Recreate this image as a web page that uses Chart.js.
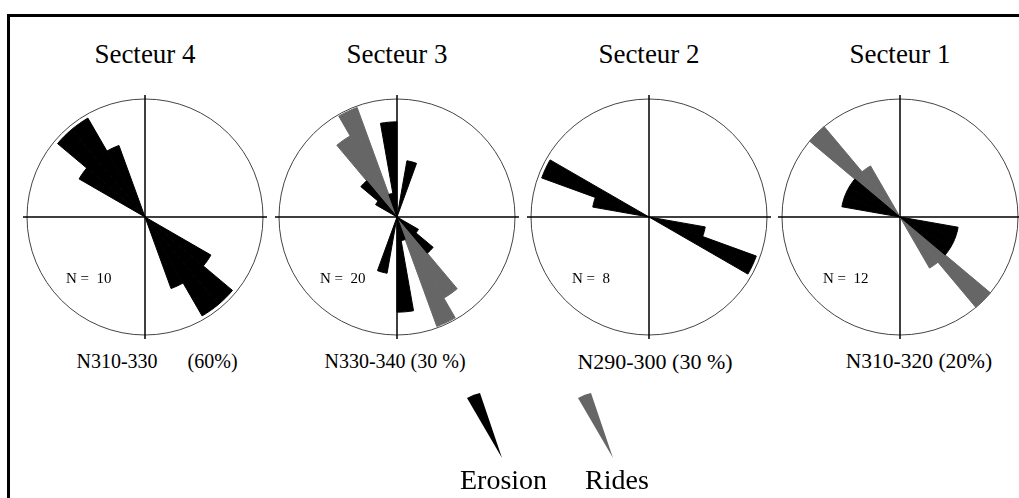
<!DOCTYPE html>
<html>
<head>
<meta charset="utf-8">
<script src="https://cdn.jsdelivr.net/npm/chart.js@4.4.0/dist/chart.umd.min.js"></script>
<style>
  html, body { margin: 0; padding: 0; background: #fff; }
  body { width: 1019px; height: 498px; position: relative; overflow: hidden;
         font-family: "Liberation Serif", "Times New Roman", serif; color: #000; }
  .frame { position: absolute; left: 7px; top: 14px; width: 1100px; height: 600px;
           border-top: 3px solid #000; border-left: 3px solid #000; }
  .rose { position: absolute; top: 92px; }
  .title { position: absolute; top: 39px; width: 200px; margin-left: -100px; text-align: center;
           font-size: 27px; white-space: nowrap; }
  .sub { position: absolute; top: 350px; width: 240px; margin-left: -120px; text-align: center;
         font-size: 20px; white-space: pre; }
  .count { position: absolute; top: 270px; font-size: 15px; white-space: pre; }
  .leg { position: absolute; top: 464px; font-size: 28px; white-space: nowrap; }
  svg { position: absolute; left: 0; top: 0; }
</style>
</head>
<body>
<div class="frame"></div>

<div class="title" style="left:145px">Secteur 4</div>
<div class="title" style="left:397px">Secteur 3</div>
<div class="title" style="left:649px">Secteur 2</div>
<div class="title" style="left:900px">Secteur 1</div>

<canvas id="s4" class="rose" width="250" height="250" style="left:20px"></canvas>
<canvas id="s3" class="rose" width="250" height="250" style="left:272px"></canvas>
<canvas id="s2" class="rose" width="250" height="250" style="left:524px"></canvas>
<canvas id="s1" class="rose" width="250" height="250" style="left:775px"></canvas>

<div class="count" style="left:66px">N =  10</div>
<div class="count" style="left:320px">N =  20</div>
<div class="count" style="left:572px">N =  8</div>
<div class="count" style="left:823px">N =  12</div>

<div class="sub" style="left:157px">N310-330      (60%)</div>
<div class="sub" style="left:395px">N330-340 (30 %)</div>
<div class="sub" style="left:655px; top:349px; font-size:22px">N290-300 (30 %)</div>
<div class="sub" style="left:919px; top:349px; font-size:21.5px">N310-320 (20%)</div>

<svg width="1019" height="498">
  <path d="M467,398 Q474,394 480,393 L502,458 Z" fill="#000"/>
  <path d="M578,398 Q585,394 591,393 L613,458 Z" fill="#666"/>
</svg>
<div class="leg" style="left:460px">Erosion</div>
<div class="leg" style="left:585px">Rides</div>

<script>
// 10 degree direction classes, clockwise from north
var binStarts = [0, 10, 20, 30, 40, 50, 60, 70, 80, 90, 100, 110, 120, 130, 140, 150, 160, 170,
                 180, 190, 200, 210, 220, 230, 240, 250, 260, 270, 280, 290, 300, 310, 320, 330, 340, 350];
var scaleMax = 31;

// percentages per class (bidirectional, so each class has its opposite)
var s4Erosion = [0, 0, 0, 0, 0, 0, 0, 0, 0, 0, 0, 0, 20, 30, 30, 20, 0, 0,
                 0, 0, 0, 0, 0, 0, 0, 0, 0, 0, 0, 0, 20, 30, 30, 20, 0, 0];
var s3Erosion = [0, 15, 0, 0, 0, 0, 0, 0, 0, 0, 0, 0, 6.5, 12.4, 0, 0, 6.3, 25,
                 0, 15, 0, 0, 0, 0, 0, 0, 0, 0, 0, 0, 6.5, 12.4, 0, 0, 6.3, 25];
var s3Rides   = [0, 0, 0, 0, 0, 0, 0, 0, 0, 0, 0, 0, 0, 0, 24.6, 30.6, 0, 0,
                 0, 0, 0, 0, 0, 0, 0, 0, 0, 0, 0, 0, 0, 0, 24.6, 30.6, 0, 0];
var s2Erosion = [0, 0, 0, 0, 0, 0, 0, 0, 0, 0, 15, 30, 0, 0, 0, 0, 0, 0,
                 0, 0, 0, 0, 0, 0, 0, 0, 0, 0, 15, 30, 0, 0, 0, 0, 0, 0];
var s1Erosion = [0, 0, 0, 0, 0, 0, 0, 0, 0, 0, 15.5, 15.5, 15.5, 0, 0, 0, 0, 0,
                 0, 0, 0, 0, 0, 0, 0, 0, 0, 0, 15.5, 15.5, 15.5, 0, 0, 0, 0, 0];
var s1Rides   = [0, 0, 0, 0, 0, 0, 0, 0, 0, 0, 0, 0, 0, 31, 15.5, 0, 0, 0,
                 0, 0, 0, 0, 0, 0, 0, 0, 0, 0, 0, 0, 0, 31, 15.5, 0, 0, 0];

var binLabels = binStarts.map(function (a) { return 'N' + a + '-' + (a + 10); });

// N-S / E-W cross, a little longer than the circle
var crossPlugin = {
  id: 'cross',
  beforeDatasetsDraw: function (chart) {
    var s = chart.scales.r, c = chart.ctx, L = s.drawingArea + 4;
    c.save();
    c.strokeStyle = '#000';
    c.lineWidth = 1.5;
    c.beginPath();
    c.moveTo(s.xCenter - L, s.yCenter); c.lineTo(s.xCenter + L, s.yCenter);
    c.moveTo(s.xCenter, s.yCenter - L); c.lineTo(s.xCenter, s.yCenter + L);
    c.stroke();
    c.restore();
  }
};

function petals(values, color) {
  return {
    data: values,
    backgroundColor: color,
    borderColor: color,
    borderWidth: function (ctx) { return ctx.raw > 0 ? 1 : 0; }
  };
}

function makeRose(id, erosion, rides) {
  var sets = [petals(erosion, '#000')];
  if (rides) sets.push(petals(rides, '#666'));
  return new Chart(document.getElementById(id), {
    type: 'polarArea',
    data: { labels: binLabels, datasets: sets },
    options: {
      responsive: false,
      animation: false,
      layout: { padding: 7 },
      plugins: { legend: { display: false }, tooltip: { enabled: false } },
      scales: {
        r: {
          min: 0,
          max: scaleMax,
          startAngle: 0,
          ticks: { display: false, stepSize: scaleMax },
          grid: { color: '#444', lineWidth: 1 },
          angleLines: { display: false },
          pointLabels: { display: false }
        }
      }
    },
    plugins: [crossPlugin]
  });
}

makeRose('s4', s4Erosion);
makeRose('s3', s3Erosion, s3Rides);
makeRose('s2', s2Erosion);
makeRose('s1', s1Erosion, s1Rides);
</script>
</body>
</html>
